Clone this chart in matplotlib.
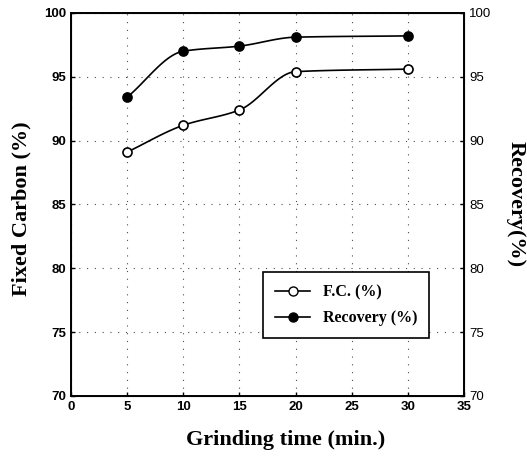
import numpy as np
import matplotlib
matplotlib.use("Agg")
import matplotlib.pyplot as plt
from matplotlib.lines import Line2D

# donnees
grind_time = [5, 10, 15, 20, 30]
fixed_carbon = [89.1, 91.2, 92.4, 95.4, 95.6]
recovery = [93.4, 97.0, 97.4, 98.1, 98.2]

x_ticks = [0, 5, 10, 15, 20, 25, 30, 35]
y_ticks = [70, 75, 80, 85, 90, 95, 100]


def smooth(xs, ys, n=30):
    """Courbe lissee (Hermite monotone) entre les points, pour le trace seulement."""
    xs = np.asarray(xs, float)
    ys = np.asarray(ys, float)
    h = np.diff(xs)
    d = np.diff(ys) / h
    m = np.zeros_like(ys)
    m[0], m[-1] = d[0], d[-1]
    for i in range(1, len(xs) - 1):
        if d[i - 1] * d[i] > 0:
            w1 = 2 * h[i] + h[i - 1]
            w2 = h[i] + 2 * h[i - 1]
            m[i] = (w1 + w2) / (w1 / d[i - 1] + w2 / d[i])
    out_x, out_y = [], []
    for i in range(len(xs) - 1):
        t = np.linspace(0, 1, n)
        h00 = 2 * t**3 - 3 * t**2 + 1
        h10 = t**3 - 2 * t**2 + t
        h01 = -2 * t**3 + 3 * t**2
        h11 = t**3 - t**2
        out_x.append(xs[i] + t * h[i])
        out_y.append(h00 * ys[i] + h10 * h[i] * m[i] + h01 * ys[i + 1] + h11 * h[i] * m[i + 1])
    return np.concatenate(out_x), np.concatenate(out_y)


fig = plt.figure(figsize=(5.27, 4.61), dpi=100)
ax = fig.add_axes([0.1347, 0.141, 0.746, 0.831])

for ys, face in [(fixed_carbon, "white"), (recovery, "black")]:
    sx, sy = smooth(grind_time, ys)
    ax.plot(sx, sy, color="black", lw=1.2, zorder=3)
    ax.plot(grind_time, ys, "o", ms=6.5, mfc=face, mec="black", mew=1.2, zorder=4)

ax.set_xlim(0, 35)
ax.set_ylim(70, 100)
ax.set_xticks(x_ticks)
ax.set_yticks(y_ticks)
ax.grid(True, color="black", linestyle=(0, (1, 6)), lw=0.8, alpha=0.7)
ax.tick_params(direction="in", length=3, width=1, labelsize=9.5)
for lab in ax.get_xticklabels() + ax.get_yticklabels():
    lab.set_fontweight("bold")
    lab.set_family("Liberation Sans")
for sp in ax.spines.values():
    sp.set_linewidth(1.4)

ax2 = ax.twinx()
ax2.set_ylim(70, 100)
ax2.set_yticks(y_ticks)
ax2.tick_params(direction="in", length=3, width=1, labelsize=9.5)
for lab in ax2.get_yticklabels():
    lab.set_family("Liberation Sans")

lab_font = dict(family="Liberation Serif", fontweight="bold", fontsize=16)
ax.set_ylabel("Fixed Carbon (%)", va="center", **lab_font)
ax.yaxis.set_label_coords(-0.125, 0.49)
ax2.set_ylabel("Recovery(%)", rotation=-90, va="center", **lab_font)
ax2.yaxis.set_label_coords(1.13, 0.50)
ax.set_xlabel("Grinding time (min.)", va="center", **lab_font)
ax.xaxis.set_label_coords(0.547, -0.115)

handles = [
    Line2D([], [], color="black", lw=1.2, marker="o", ms=6.5, mfc="white", mec="black"),
    Line2D([], [], color="black", lw=1.2, marker="o", ms=6.5, mfc="black", mec="black"),
]
leg = ax.legend(handles, ["F.C. (%)", "Recovery (%)"], loc="upper left",
                bbox_to_anchor=(17.1 / 35, (79.7 - 70) / 30), borderaxespad=0,
                prop=dict(family="Liberation Serif", weight="bold", size=11.5),
                fancybox=False, framealpha=1, edgecolor="black",
                handlelength=2.2, borderpad=0.75, labelspacing=0.65)
leg.get_frame().set_linewidth(1.2)

fig.savefig("out.png", dpi=100)
